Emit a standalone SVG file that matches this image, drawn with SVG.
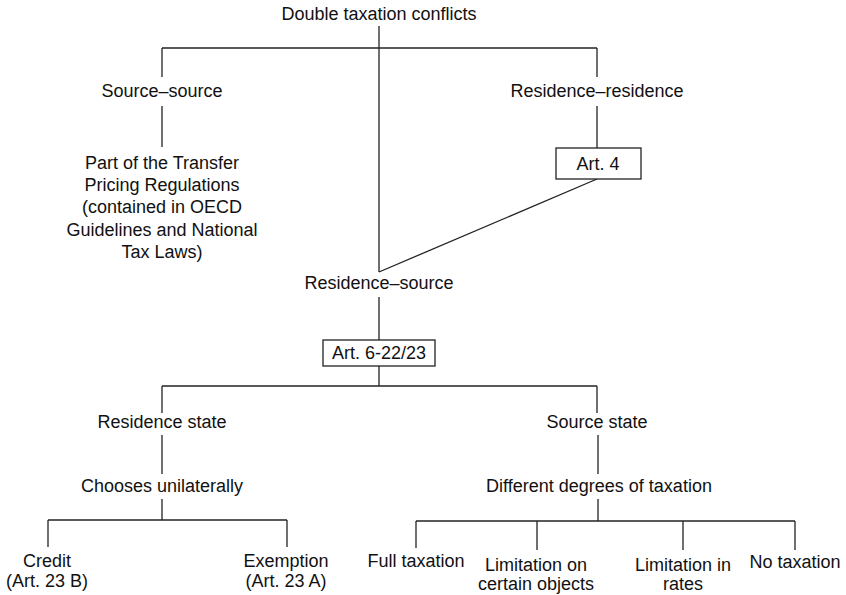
<svg xmlns="http://www.w3.org/2000/svg" width="846" height="595" viewBox="0 0 846 595">
<style>
text{font-family:"Liberation Sans",Arial,sans-serif;font-size:18px;fill:#111;text-anchor:middle}
.c line{stroke:#222;stroke-width:1.3;fill:none}
.box{fill:#fff;stroke:#222;stroke-width:1.3}
</style>
<rect width="846" height="595" fill="#fff"/>
<g class="c" id="connectors">
<line x1="379" y1="26" x2="379" y2="272"/>
<line x1="162" y1="48" x2="597" y2="48"/>
<line x1="162" y1="48" x2="162" y2="77"/>
<line x1="597" y1="48" x2="597" y2="77"/>
<line x1="162" y1="106" x2="162" y2="147"/>
<line x1="597" y1="106" x2="597" y2="148"/>
<line x1="597" y1="179" x2="379" y2="272"/>
<line x1="379" y1="297" x2="379" y2="340"/>
<line x1="379" y1="366" x2="379" y2="386"/>
<line x1="162" y1="386" x2="597" y2="386"/>
<line x1="162" y1="386" x2="162" y2="413"/>
<line x1="597" y1="386" x2="597" y2="413"/>
<line x1="162" y1="435" x2="162" y2="474"/>
<line x1="598" y1="435" x2="598" y2="474"/>
<line x1="162" y1="499" x2="162" y2="520"/>
<line x1="48" y1="520" x2="287" y2="520"/>
<line x1="48" y1="520" x2="48" y2="547"/>
<line x1="287" y1="520" x2="287" y2="547"/>
<line x1="598" y1="499" x2="598" y2="521"/>
<line x1="416" y1="521" x2="795" y2="521"/>
<line x1="416" y1="521" x2="416" y2="548"/>
<line x1="537" y1="521" x2="537" y2="550"/>
<line x1="683" y1="521" x2="683" y2="550"/>
<line x1="795" y1="521" x2="795" y2="550"/>
</g>
<g id="root"><text x="379" y="20">Double taxation conflicts</text></g>
<g id="source-source"><text x="162" y="97">Source–source</text></g>
<g id="residence-residence"><text x="597" y="97">Residence–residence</text></g>
<g id="transfer-pricing">
<text x="162" y="169">Part of the Transfer</text>
<text x="162" y="191">Pricing Regulations</text>
<text x="162" y="213">(contained in OECD</text>
<text x="162" y="236">Guidelines and National</text>
<text x="162" y="258">Tax Laws)</text>
</g>
<g id="art4"><rect class="box" x="556" y="148" width="85" height="31"/><text x="598" y="170">Art. 4</text></g>
<g id="residence-source"><text x="379" y="289">Residence–source</text></g>
<g id="art6-22-23"><rect class="box" x="323" y="340" width="112" height="26"/><text x="379" y="359">Art. 6-22/23</text></g>
<g id="residence-state"><text x="162" y="428">Residence state</text></g>
<g id="source-state"><text x="597" y="428">Source state</text></g>
<g id="chooses"><text x="162" y="492">Chooses unilaterally</text></g>
<g id="degrees"><text x="599" y="492">Different degrees of taxation</text></g>
<g id="credit"><text x="47" y="567">Credit</text><text x="47" y="587">(Art. 23 B)</text></g>
<g id="exemption"><text x="286" y="567">Exemption</text><text x="286" y="587">(Art. 23 A)</text></g>
<g id="full"><text x="416" y="567">Full taxation</text></g>
<g id="lim-objects"><text x="536" y="571">Limitation on</text><text x="536" y="590">certain objects</text></g>
<g id="lim-rates"><text x="683" y="571">Limitation in</text><text x="683" y="590">rates</text></g>
<g id="none"><text x="795" y="568">No taxation</text></g>
</svg>
